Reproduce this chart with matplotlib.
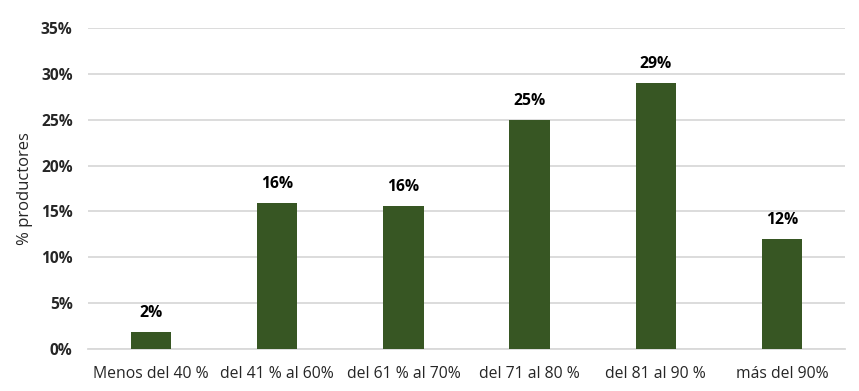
import matplotlib
matplotlib.use('Agg')
import matplotlib.pyplot as plt
from matplotlib.ticker import PercentFormatter

categories = ["Menos del 40 %", "del 41 % al 60%", "del 61 % al 70%",
              "del 71 al 80 %", "del 81 al 90 %", "más del 90%"]
values = [1.9, 15.9, 15.6, 25.0, 29.0, 12.0]
labels = ["2%", "16%", "16%", "25%", "29%", "12%"]

plt.rcParams['font.family'] = ['Open Sans', 'DejaVu Sans']

fig = plt.figure(figsize=(8.59, 3.91), dpi=100)
ax = fig.add_axes([0.1024, 0.1074, 0.8813, 0.821])

x = range(len(categories))
bars = ax.bar(x, values, width=0.32, color="#375623", zorder=3)
for b, lab in zip(bars, labels):
    ax.text(b.get_x() + b.get_width() / 2, b.get_height() + 1.2, lab,
            ha='center', va='bottom', fontsize=11.3, fontweight='bold', color='black')

ax.set_xlim(-0.5, 5.5)
ax.set_ylim(0, 35)
ax.set_yticks(range(0, 36, 5))
ax.yaxis.set_major_formatter(PercentFormatter(decimals=0))
ax.set_xticks(list(x))
ax.set_xticklabels(categories, fontsize=11.3, color='#262626')
for t in ax.get_yticklabels():
    t.set_fontweight('bold')
    t.set_fontsize(11.2)
    t.set_color('#262626')

ax.grid(axis='y', color='#d9d9d9', linewidth=1.3, zorder=0)
for s in ['top', 'right', 'left']:
    ax.spines[s].set_visible(False)
ax.spines['bottom'].set_color('#d9d9d9')
ax.spines['bottom'].set_linewidth(1.3)
ax.tick_params(length=0)
ax.tick_params(axis='x', pad=12)
ax.tick_params(axis='y', pad=11)
ax.set_ylabel("% productores", fontsize=12, color='#262626', labelpad=6)

plt.savefig("out.png", dpi=100)
